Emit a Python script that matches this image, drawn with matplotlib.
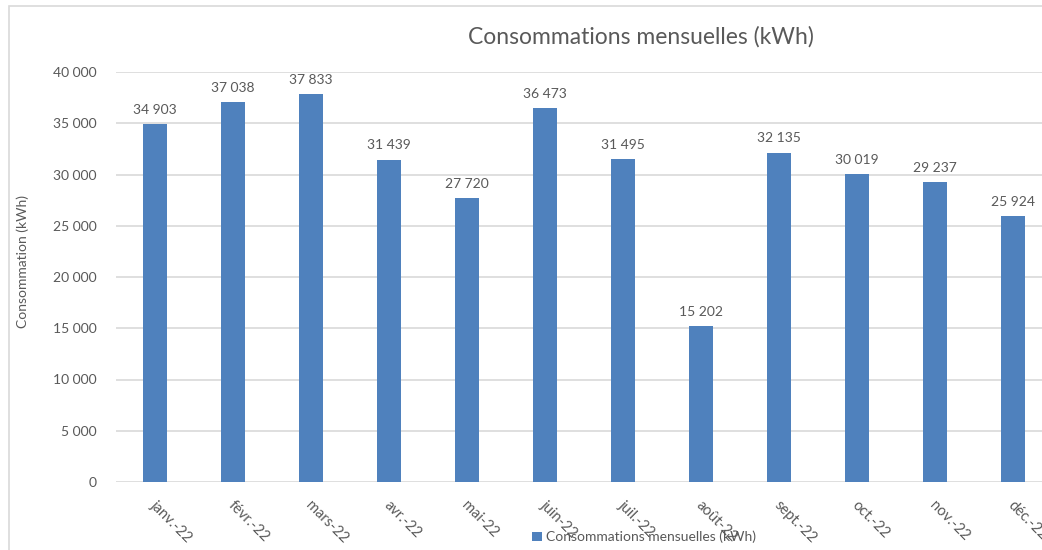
import matplotlib
matplotlib.use("Agg")
import matplotlib.pyplot as plt
from matplotlib.patches import Rectangle, Patch

plt.rcParams['font.family'] = ['Lato', 'DejaVu Sans']

months = ["janv.-22", "févr.-22", "mars-22", "avr.-22", "mai-22", "juin-22",
          "juil.-22", "août-22", "sept.-22", "oct.-22", "nov.-22", "déc.-22"]
consumption = [34903, 37038, 37833, 31439, 27720, 36473,
               31495, 15202, 32135, 30019, 29237, 25924]
yticks = [0, 5000, 10000, 15000, 20000, 25000, 30000, 35000, 40000]

title = "Consommations mensuelles (kWh)"
ylabel = "Consommation (kWh)"

BAR = "#4F81BD"
TXT = "#595959"
GRID = "#D9D9D9"

W, H = 1042, 550
fig = plt.figure(figsize=(W / 100, H / 100), dpi=100)
fig.patch.set_facecolor("white")

# outer chart frame
fig.patches.append(Rectangle((9 / W, -0.1), 1.2, 1 - 6 / H + 0.1,
                             transform=fig.transFigure, fill=False,
                             edgecolor="#D9D9D9", linewidth=1.2))

def fmt(v):
    return f"{v:,}".replace(",", " ")

ax = fig.add_axes([116 / W, 68 / H, 936 / W, 410 / H])
x = list(range(len(months)))
bars = ax.bar(x, consumption, width=0.31, color=BAR, zorder=3)
ax.set_xlim(-0.5, len(months) - 0.5)
ax.set_ylim(0, 40000)
ax.set_yticks(yticks)
ax.set_yticklabels([fmt(v) for v in yticks], color=TXT, fontsize=10)
ax.yaxis.grid(True, color=GRID, linewidth=1.2, zorder=0)
ax.tick_params(axis="y", length=0, pad=14)
ax.tick_params(axis="x", length=0)
for s in ax.spines.values():
    s.set_visible(False)
ax.set_facecolor("none")

ax.set_xticks(x)
ax.set_xticklabels([])
for xi, lab in zip(x, months):
    ax.annotate(lab, xy=(xi, 0), xycoords="data", xytext=(-2, -15),
                textcoords="offset points", rotation=-45,
                rotation_mode="anchor", ha="left", va="center",
                color=TXT, fontsize=10.5)

for xi, v in zip(x, consumption):
    ax.annotate(fmt(v), xy=(xi, v), xytext=(0, 6), textcoords="offset points",
                ha="center", va="bottom", color=TXT, fontsize=10)

fig.text(641 / W, 1 - 37 / H, title, ha="center", va="center",
         color=TXT, fontsize=16.5)
fig.text(23 / W, 1 - 262 / H, ylabel, rotation=90, ha="center",
         va="center", color=TXT, fontsize=10)

fig.legend(handles=[Patch(facecolor=BAR, label=title)], loc="center",
           bbox_to_anchor=(644 / W, 1 - 537 / H), frameon=False,
           handlelength=0.7, handleheight=0.7, handletextpad=0.3,
           fontsize=10, labelcolor=TXT)

fig.savefig("out.png", dpi=100)
